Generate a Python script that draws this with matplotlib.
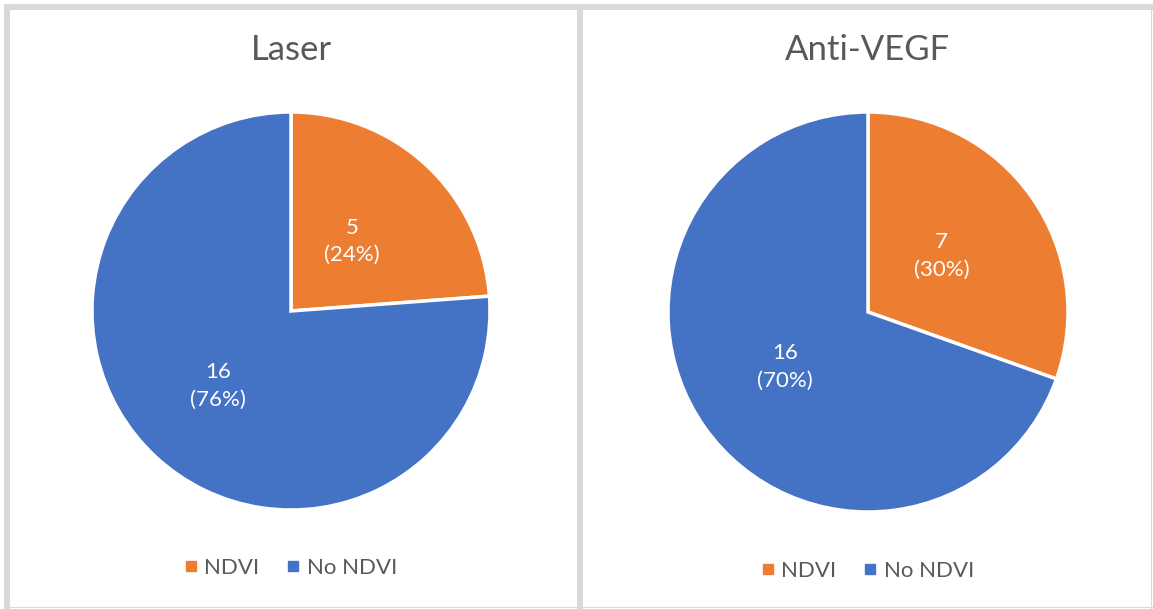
import matplotlib
matplotlib.use("Agg")
import matplotlib.pyplot as plt
from matplotlib.lines import Line2D
from matplotlib.patches import Rectangle
import numpy as np

plt.rcParams['font.family'] = ['Lato', 'DejaVu Sans']

titles = ['Laser', 'Anti-VEGF']
categories = ['NDVI', 'No NDVI']
laser_counts = [5, 16]
antivegf_counts = [7, 16]
colors = ['#ED7D31', '#4472C4']

W, H = 1153, 609
fig = plt.figure(figsize=(W / 100, H / 100), dpi=100)
fig.patch.set_facecolor('white')


def px_box(x0, y0, w, h):
    # pixel box (top-left origin) -> figure fraction
    return [x0 / W, (H - y0 - h) / H, w / W, h / H]


# chart frames
gray = '#d9d9d9'
for (x0, y0, w, h) in [(4, 4, 1149, 6), (4, 4, 6, 605), (577, 4, 6, 605),
                       (1151, 4, 1.2, 605), (4, 607, 1149, 1.2)]:
    fig.add_artist(Rectangle((x0 / W, (H - y0 - h) / H), w / W, h / H,
                             transform=fig.transFigure, facecolor=gray,
                             edgecolor='none', zorder=0))

panels = [
    (titles[0], laser_counts, px_box(92, 112, 398, 398), 291, 568, [0.45, 0.54]),
    (titles[1], antivegf_counts, px_box(668, 112, 400, 400), 868, 571, [0.45, 0.51]),
]

for title, counts, box, cx, leg_y, dists in panels:
    ax = fig.add_axes(box)
    wedges, _ = ax.pie(counts, colors=colors, startangle=90, counterclock=False,
                       wedgeprops=dict(edgecolor='white', linewidth=2.5))
    ax.set_aspect('equal')
    ax.set_xlim(-1, 1)
    ax.set_ylim(-1, 1)
    total = sum(counts)
    for w, c, d in zip(wedges, counts, dists):
        ang = np.deg2rad((w.theta1 + w.theta2) / 2)
        ax.text(d * np.cos(ang), d * np.sin(ang) + 0.02,
                f'{c}\n({c / total:.0%})', ha='center', va='center',
                color='white', fontsize=16, linespacing=1.45)
    fig.text(cx / W, 1 - 50 / H, title, ha='center', va='center',
             fontsize=25, color='#595959')
    handles = [Line2D([], [], marker='s', linestyle='none', markersize=6.5,
                      markerfacecolor=col, markeredgecolor=col) for col in colors]
    fig.legend(handles, categories, loc='center',
               bbox_to_anchor=(cx / W, 1 - leg_y / H), ncol=2, frameon=False,
               fontsize=16, labelcolor='#595959', handlelength=0.5,
               handletextpad=0.35, columnspacing=1.3)

fig.savefig('out.png', dpi=100, facecolor='white')
